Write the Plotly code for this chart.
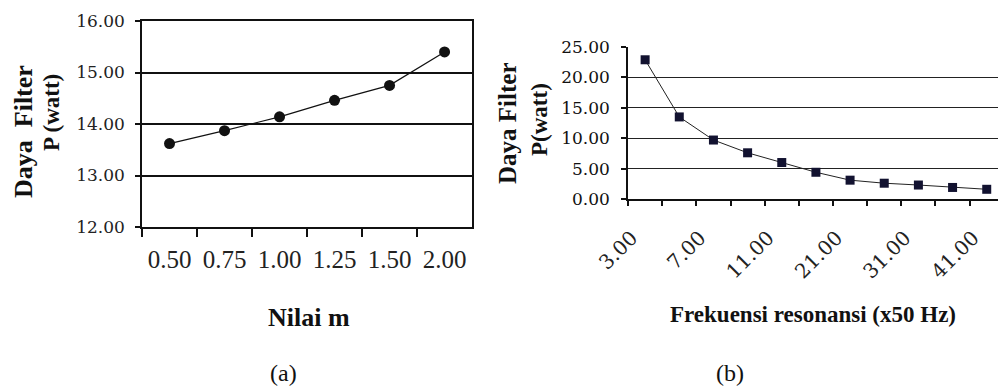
import plotly.graph_objects as go

# ---- data ----
m_labels = ["0.50", "0.75", "1.00", "1.25", "1.50", "2.00"]
p_a = [13.62, 13.87, 14.14, 14.46, 14.75, 15.40]

f_cats = ["3.00", "5.00", "7.00", "9.00", "11.00", "16.00", "21.00", "26.00", "31.00", "36.00", "41.00"]
f_ticktext = ["3.00", "", "7.00", "", "11.00", "", "21.00", "", "31.00", "", "41.00"]
p_b = [22.9, 13.5, 9.7, 7.6, 6.0, 4.4, 3.1, 2.6, 2.3, 1.9, 1.6]

yticks_a = [12, 13, 14, 15, 16]
yticks_b = [0, 5, 10, 15, 20, 25]

SERIF = "Liberation Serif"
WIDE = "DejaVu Serif"
PAD = "\u00a0\u00a0\u00a0"  # trailing padding so rotated labels sit left of their category

fig = go.Figure()
fig.add_trace(go.Scatter(
    x=m_labels, y=p_a, mode="lines+markers",
    line=dict(color="#111", width=1.2),
    marker=dict(symbol="circle", size=11, color="#111"),
    xaxis="x", yaxis="y", showlegend=False))
fig.add_trace(go.Scatter(
    x=f_cats, y=p_b, mode="lines+markers",
    line=dict(color="#222", width=1),
    marker=dict(symbol="square", size=9, color="#121230"),
    xaxis="x2", yaxis="y2", showlegend=False))

axis_common = dict(showline=True, linecolor="#111", linewidth=1.5, ticks="outside",
                   tickcolor="#111", tickwidth=1.5, zeroline=False, automargin=False)

fig.update_layout(
    width=998, height=392, margin=dict(l=0, r=0, t=0, b=0, autoexpand=False),
    paper_bgcolor="white", plot_bgcolor="white",
    font=dict(family=SERIF, color="#111"),
    xaxis=dict(domain=[0.1423, 0.473], type="category", anchor="y",
               tickson="boundaries", ticklen=8, showgrid=False, mirror=True,
               tickfont=dict(size=25, family=SERIF, color="#222"),
               ticklabelstandoff=9, range=[-0.5, 5.5], **axis_common),
    yaxis=dict(domain=[0.4209, 0.9464], anchor="x", range=[12, 16],
               tickvals=yticks_a, ticktext=[f"{v:.2f}" for v in yticks_a],
               ticklen=5, showgrid=True, gridcolor="#111", gridwidth=2, mirror=True,
               tickfont=dict(size=17, family=WIDE, color="#222"),
               ticklabelstandoff=7, **axis_common),
    xaxis2=dict(domain=[0.6293, 1.0], type="category", anchor="y2",
                tickmode="array", tickvals=f_cats,
                ticktext=[t + PAD if t else t for t in f_ticktext],
                tickson="boundaries", ticklen=5, showgrid=False, tickangle=-45,
                tickfont=dict(size=20, family=WIDE, color="#222"),
                ticklabelstandoff=4,
                range=[-0.5, 10.33], **axis_common),
    yaxis2=dict(domain=[0.4923, 0.8801], anchor="x2", range=[0, 25],
                tickvals=yticks_b, ticktext=[f"{v:.2f}" for v in yticks_b],
                ticklen=5, showgrid=True, gridcolor="#222", gridwidth=1.4,
                tickfont=dict(size=17, family=WIDE, color="#111"),
                ticklabelstandoff=8, **axis_common),
)

def ann(text, x, y, size, bold=True, angle=0):
    fig.add_annotation(text=f"<b>{text}</b>" if bold else text, x=x, y=y,
                       xref="paper", yref="paper", showarrow=False, textangle=angle,
                       font=dict(family=SERIF, size=size, color="#111"),
                       xanchor="center", yanchor="middle")

# y titles (left chart)
ann("Daya  Filter", 23/998, 1-132/392, 26, angle=-90)
ann("P (watt)", 52/998, 1-113/392, 23, angle=-90)
# y titles (right chart)
ann("Daya Filter", 507/998, 1-124/392, 25, angle=-90)
ann("P(watt)", 539/998, 1-120/392, 23, angle=-90)
# x titles
ann("Nilai m", 309/998, 1-317/392, 26)
ann("Frekuensi resonansi (x50 Hz)", 813/998, 1-314/392, 23)
# captions
ann("(a)", 283/998, 1-373/392, 24, bold=False)
ann("(b)", 730/998, 1-373/392, 24, bold=False)

fig.write_html("out.html")
